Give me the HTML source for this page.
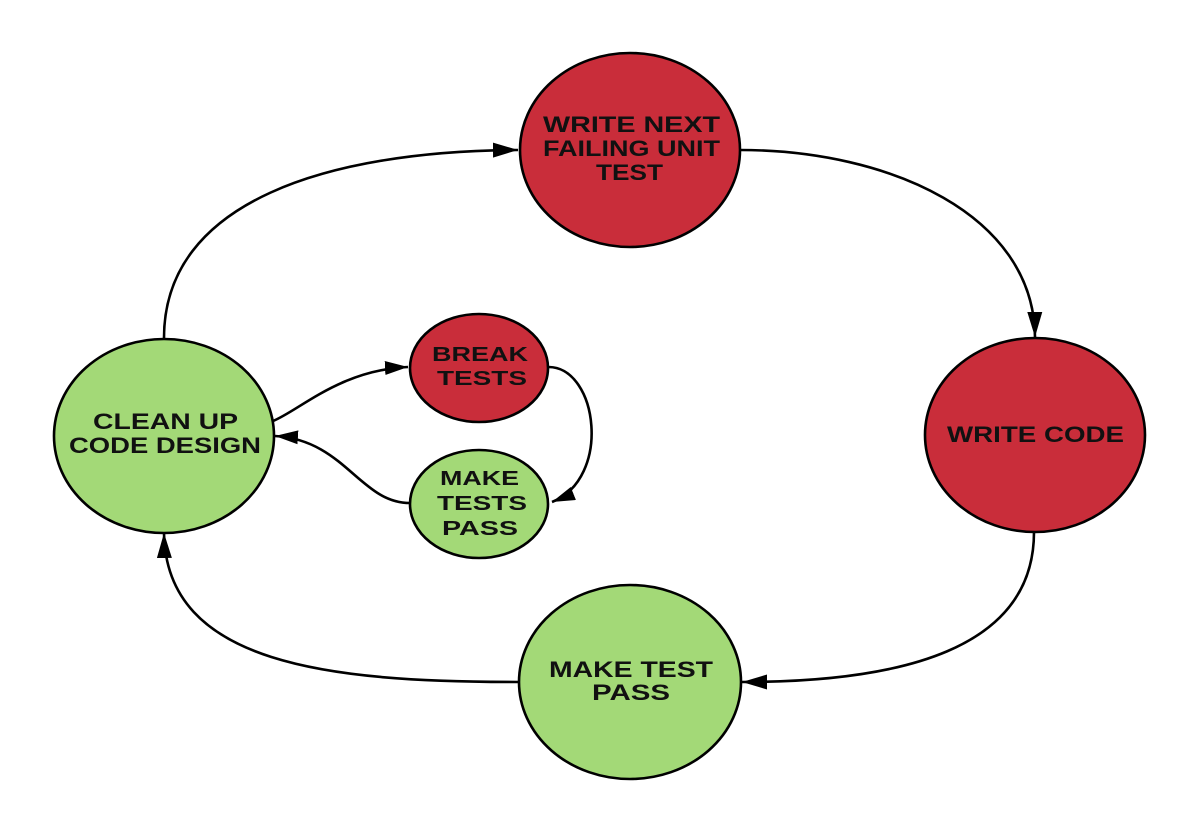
<!DOCTYPE html>
<html>
<head>
<meta charset="utf-8">
<style>
  html, body { margin: 0; padding: 0; background: #ffffff; }
  svg { display: block; }
  text { font-family: "Liberation Sans", "DejaVu Sans", sans-serif; font-weight: bold; fill: #111; }
</style>
</head>
<body>
<svg width="1200" height="834" viewBox="0 0 1200 834" xmlns="http://www.w3.org/2000/svg">
  <defs>
    <marker id="ah" markerUnits="userSpaceOnUse" markerWidth="26" markerHeight="16" refX="25" refY="7.5" orient="auto">
      <path d="M0,0 L25,7.5 L0,15 z" fill="#000"/>
    </marker>
    <marker id="ahs" markerUnits="userSpaceOnUse" markerWidth="24" markerHeight="15" refX="23" refY="7" orient="auto">
      <path d="M0,0 L23,7 L0,14 z" fill="#000"/>
    </marker>
  </defs>

  <!-- connectors -->
  <g fill="none" stroke="#000" stroke-width="2.6">
    <path d="M164,338 C164,200 330,151 518,150" marker-end="url(#ah)"/>
    <path d="M740,150 C890,150 1034,215 1035,337" marker-end="url(#ah)"/>
    <path d="M1034,532 C1034,650 900,682 742,682" marker-end="url(#ah)"/>
    <path d="M519,682 C330,682 166,665 164,533" marker-end="url(#ah)"/>
    <path d="M273,421 C300,410 340,370 408,367" marker-end="url(#ahs)"/>
    <path d="M410,503 C360,503 345,440 275,436" marker-end="url(#ahs)"/>
    <path d="M549,367 C598,368 612,478 552,502" marker-end="url(#ahs)"/>
  </g>

  <!-- nodes -->
  <g stroke="#000" stroke-width="2.6">
    <ellipse cx="630" cy="150" rx="110" ry="97" fill="#C92D3A"/>
    <ellipse cx="1035" cy="435" rx="110" ry="97" fill="#C92D3A"/>
    <ellipse cx="630" cy="682" rx="111" ry="97" fill="#A3D977"/>
    <ellipse cx="164" cy="436" rx="110" ry="97" fill="#A3D977"/>
    <ellipse cx="479" cy="368" rx="69" ry="54" fill="#C92D3A"/>
    <ellipse cx="479" cy="504" rx="69" ry="54" fill="#A3D977"/>
  </g>

  <!-- labels -->
  <g font-size="22">
    <text x="543" y="132" textLength="177" lengthAdjust="spacingAndGlyphs">WRITE NEXT</text>
    <text x="543" y="156" textLength="177" lengthAdjust="spacingAndGlyphs">FAILING UNIT</text>
    <text x="596" y="180" textLength="67" lengthAdjust="spacingAndGlyphs">TEST</text>

    <text x="947" y="442" textLength="177" lengthAdjust="spacingAndGlyphs">WRITE CODE</text>

    <text x="93" y="429" textLength="145" lengthAdjust="spacingAndGlyphs">CLEAN UP</text>
    <text x="69" y="453" textLength="192" lengthAdjust="spacingAndGlyphs">CODE DESIGN</text>

    <text x="549" y="677" textLength="164" lengthAdjust="spacingAndGlyphs">MAKE TEST</text>
    <text x="592" y="700" textLength="78" lengthAdjust="spacingAndGlyphs">PASS</text>
  </g>
  <g font-size="20.5">
    <text x="432" y="361" textLength="96" lengthAdjust="spacingAndGlyphs">BREAK</text>
    <text x="437" y="385" textLength="90" lengthAdjust="spacingAndGlyphs">TESTS</text>

    <text x="440" y="485" textLength="79" lengthAdjust="spacingAndGlyphs">MAKE</text>
    <text x="437" y="510" textLength="90" lengthAdjust="spacingAndGlyphs">TESTS</text>
    <text x="442" y="535" textLength="76" lengthAdjust="spacingAndGlyphs">PASS</text>
  </g>
</svg>
</body>
</html>
